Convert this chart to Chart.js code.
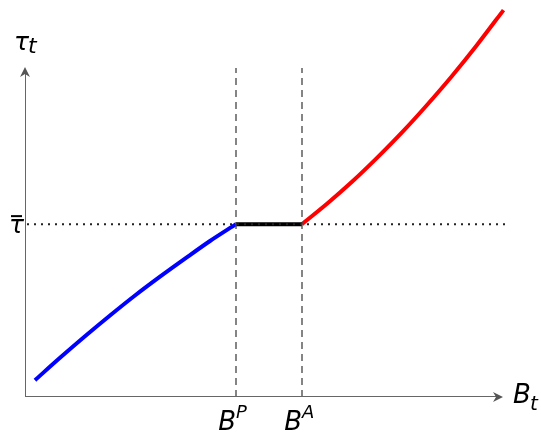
<!DOCTYPE html>
<html><head><meta charset="utf-8">
<script src="https://cdn.jsdelivr.net/npm/chart.js@4/dist/chart.umd.min.js"></script>
<style>html,body{margin:0;padding:0;background:#fff}#wrap{width:541px;height:433px}</style>
</head><body><div id="wrap"><canvas id="c" width="541" height="433"></canvas></div>
<script>
// Data (x: B_t, y: tau_t), arbitrary units
const blueX = [2, 7, 12, 17, 22, 27, 32, 37, 42.2];
const blueY = [4.3, 10.0, 15.5, 20.8, 25.9, 30.7, 35.3, 39.8, 44.1];
const blackX = [42.2, 55.4];
const blackY = [44.1, 44.1];
const redX = [55.4, 60.4, 65.4, 70.4, 75.4, 80.4, 85.4, 90.4, 95.7];
const redY = [44.1, 49.3, 54.9, 61.0, 67.5, 74.5, 81.9, 89.8, 98.7];
const tauBar = 44.1;
const BP = 42.2, BA = 55.4;
const axisTopY = 84.2, axisRightX = 95.6, dashTop = 83.9, dotRight = 96;

const pts = (xs, ys) => xs.map((v, i) => ({x:v, y:ys[i]}));

const labelPlugin = {
  id:'labels',
  afterDatasetsDraw(chart){
    const {ctx, scales:{x, y}} = chart;
    ctx.save();
    ctx.fillStyle = '#555';
    const ax = x.getPixelForValue(0), ay0 = y.getPixelForValue(0);
    const ty = y.getPixelForValue(axisTopY);
    ctx.beginPath(); ctx.moveTo(ax, ty); ctx.lineTo(ax-5, ty+10); ctx.lineTo(ax, ty+7); ctx.lineTo(ax+5, ty+10); ctx.closePath(); ctx.fill();
    const rx = x.getPixelForValue(axisRightX);
    ctx.beginPath(); ctx.moveTo(rx, ay0); ctx.lineTo(rx-10, ay0-5); ctx.lineTo(rx-7, ay0); ctx.lineTo(rx-10, ay0+5); ctx.closePath(); ctx.fill();
    ctx.fillStyle = '#000';
    ctx.textBaseline = 'alphabetic';
    const F = (s) => 'italic ' + s + 'px "DejaVu Sans"';
    ctx.font = F(25); ctx.textAlign='left';
    ctx.fillText('τ', 14, 50);
    ctx.font = F(22); ctx.fillText('t', 28, 53);
    const tyb = y.getPixelForValue(tauBar);
    ctx.font = F(25); ctx.fillText('τ', 9, tyb+9);
    ctx.fillRect(11, tyb-9, 11, 2);
    const bpx = x.getPixelForValue(BP), bax = x.getPixelForValue(BA);
    ctx.font = F(26); ctx.textAlign='right';
    ctx.fillText('B', bpx, 430); ctx.fillText('B', bax, 430);
    ctx.font = F(18); ctx.textAlign='left';
    ctx.fillText('P', bpx, 418); ctx.fillText('A', bax, 418);
    ctx.font = F(26); ctx.fillText('B', 513, 403);
    ctx.font = F(20); ctx.fillText('t', 530, 410);
    ctx.restore();
  }
};

new Chart(document.getElementById('c'), {
  type:'scatter',
  data:{datasets:[
    {data:[{x:0,y:0},{x:0,y:axisTopY-1.5}], borderColor:'#666', borderWidth:2, showLine:true, pointRadius:0},
    {data:[{x:0,y:0},{x:axisRightX-0.8,y:0}], borderColor:'#666', borderWidth:2, showLine:true, pointRadius:0},
    {data:[{x:BP,y:0},{x:BP,y:dashTop}], borderColor:'#444', borderWidth:1.3, borderDash:[7,5], showLine:true, pointRadius:0},
    {data:[{x:BA,y:0},{x:BA,y:dashTop}], borderColor:'#444', borderWidth:1.3, borderDash:[7,5], showLine:true, pointRadius:0},
    {data:[{x:0.4,y:tauBar},{x:dotRight,y:tauBar}], borderColor:'#222', borderWidth:2, borderDash:[2,5], showLine:true, pointRadius:0},
    {data:pts(blueX, blueY), borderColor:'#0000ff', borderWidth:4, showLine:true, pointRadius:0, tension:0.3},
    {data:pts(blackX, blackY), borderColor:'#000', borderWidth:4, showLine:true, pointRadius:0},
    {data:pts(redX, redY), borderColor:'#ff0000', borderWidth:4, showLine:true, pointRadius:0, tension:0.3}
  ]},
  options:{
    responsive:false, animation:false,
    layout:{padding:{left:25,right:16,top:5,bottom:36}},
    plugins:{legend:{display:false}, tooltip:{enabled:false}},
    scales:{
      x:{type:'linear', min:0, max:100, display:false},
      y:{type:'linear', min:0, max:100, display:false}
    }
  },
  plugins:[labelPlugin]
});
</script></body></html>
